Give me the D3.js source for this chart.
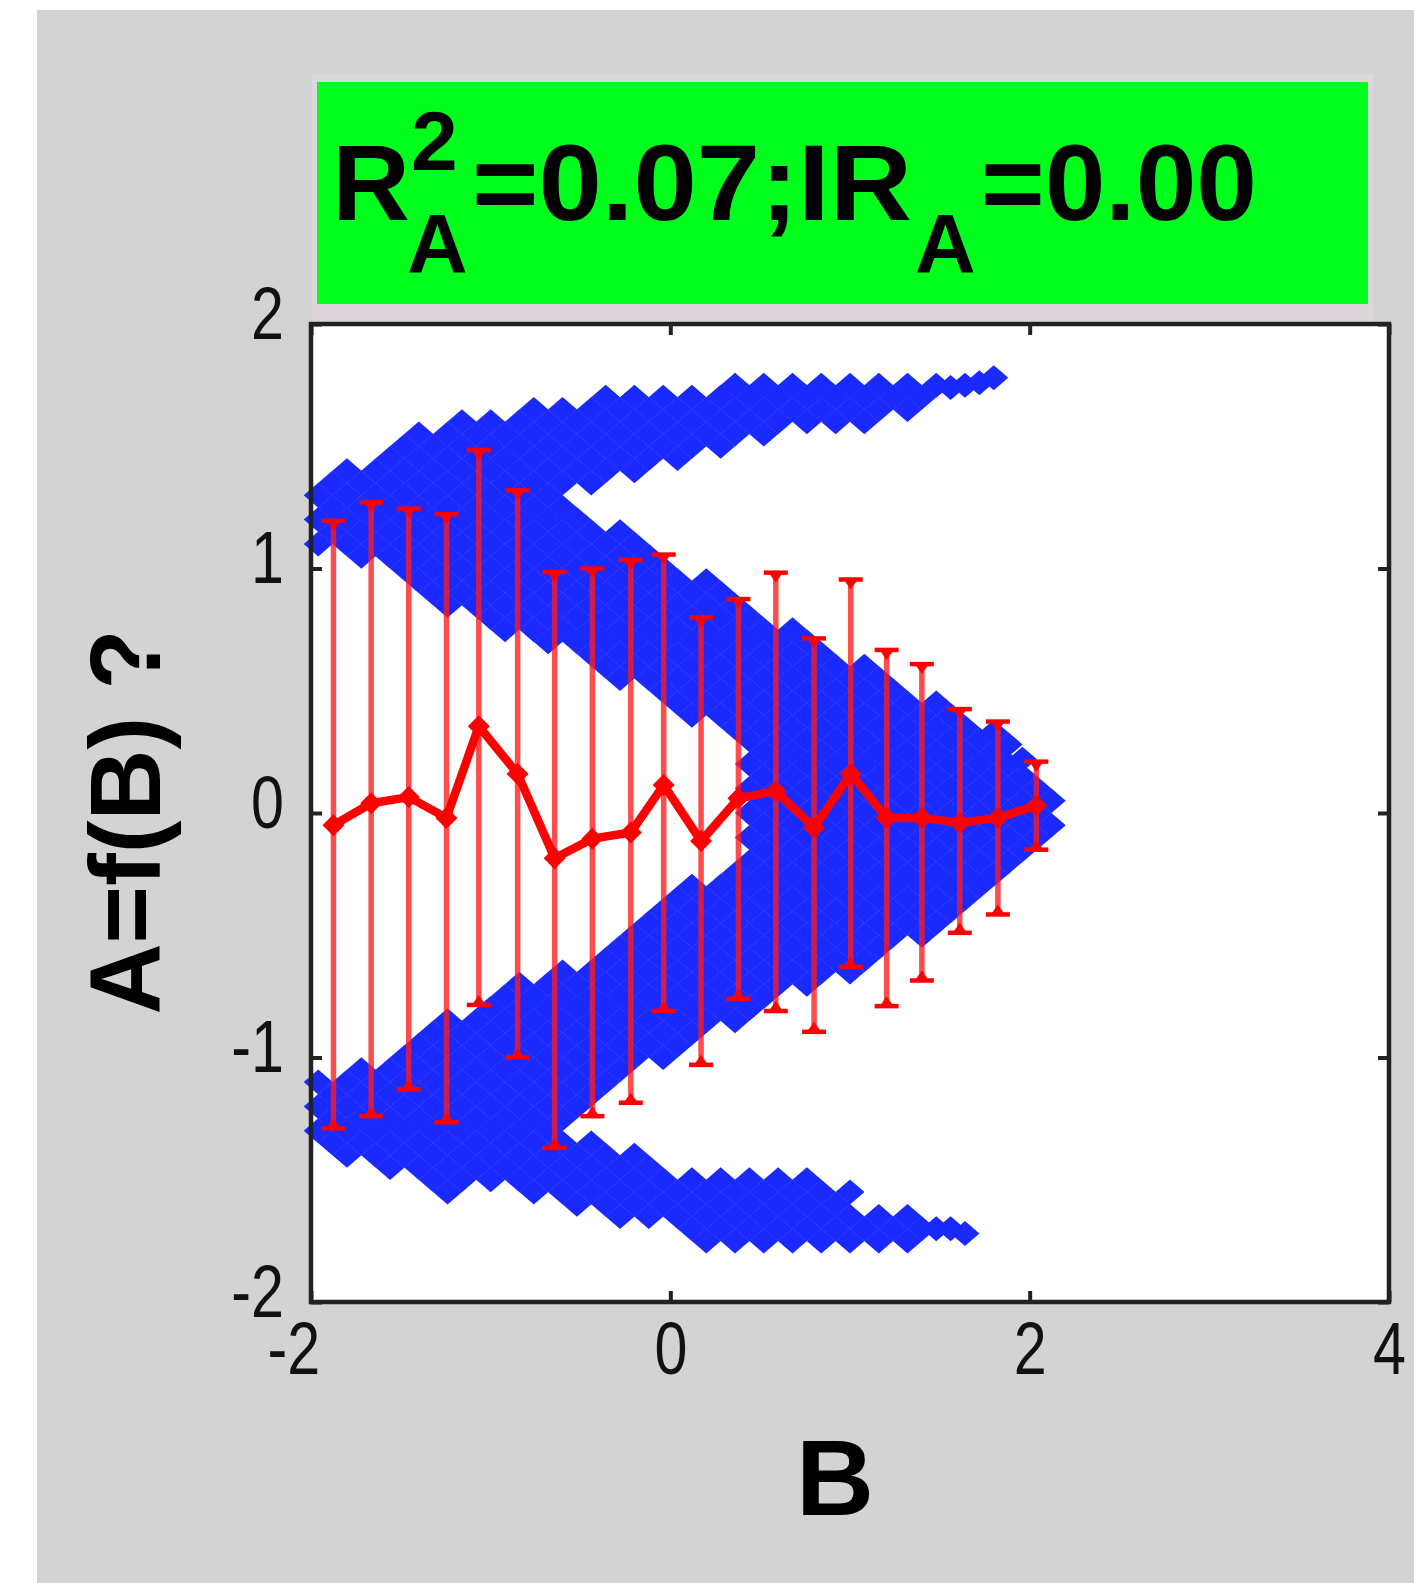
<!DOCTYPE html>
<html>
<head>
<meta charset="utf-8">
<script src="https://cdn.jsdelivr.net/npm/d3@7"></script>
<style>
body { margin: 0; background: #fff; }
svg { display: block; }
text { font-family: "Liberation Sans", Arial, Helvetica, sans-serif; }
</style>
</head>
<body>
<script>
// blue scatter, one entry per B column: [B, [A values of the markers in that column]]
var blueColumns = [
  [-1.96, [1.1, 1.2, 1.3, -1.1, -1.2, -1.3]],
  [-1.88, [1.15, 1.25, 1.35, -1.15, -1.25, -1.35]],
  [-1.80, [1.1, 1.2, 1.3, 1.4, -1.1, -1.2, -1.3, -1.4]],
  [-1.72, [1.05, 1.15, 1.25, 1.35, -1.05, -1.15, -1.25, -1.35]],
  [-1.64, [1.1, 1.2, 1.3, 1.4, -1.1, -1.2, -1.3, -1.4]],
  [-1.56, [1.05, 1.15, 1.25, 1.35, 1.45, -1.05, -1.15, -1.25, -1.35, -1.45]],
  [-1.48, [1.0, 1.1, 1.2, 1.3, 1.4, 1.5, -1.0, -1.1, -1.2, -1.3, -1.4]],
  [-1.40, [0.95, 1.05, 1.15, 1.25, 1.35, 1.45, 1.55, -0.95, -1.05, -1.15, -1.25, -1.35, -1.45]],
  [-1.32, [0.9, 1.0, 1.1, 1.2, 1.3, 1.4, 1.5, -0.9, -1.0, -1.1, -1.2, -1.3, -1.4, -1.5]],
  [-1.24, [0.85, 0.95, 1.05, 1.15, 1.25, 1.35, 1.45, 1.55, -0.85, -0.95, -1.05, -1.15, -1.25, -1.35, -1.45, -1.55]],
  [-1.16, [0.9, 1.0, 1.1, 1.2, 1.3, 1.4, 1.5, 1.6, -0.9, -1.0, -1.1, -1.2, -1.3, -1.4, -1.5]],
  [-1.08, [0.85, 0.95, 1.05, 1.15, 1.25, 1.35, 1.45, 1.55, -0.85, -0.95, -1.05, -1.15, -1.25, -1.35, -1.45]],
  [-1.00, [0.8, 0.9, 1.0, 1.1, 1.2, 1.3, 1.4, 1.5, 1.6, -0.8, -0.9, -1.0, -1.1, -1.2, -1.3, -1.4, -1.5]],
  [-0.92, [0.75, 0.85, 0.95, 1.05, 1.15, 1.25, 1.35, 1.45, 1.55, -0.75, -0.85, -0.95, -1.05, -1.15, -1.25, -1.35, -1.45]],
  [-0.84, [0.8, 0.9, 1.0, 1.1, 1.2, 1.3, 1.4, 1.5, 1.6, -0.7, -0.8, -0.9, -1.0, -1.1, -1.2, -1.3, -1.4, -1.5]],
  [-0.76, [0.75, 0.85, 0.95, 1.05, 1.15, 1.25, 1.35, 1.45, 1.55, 1.65, -0.75, -0.85, -0.95, -1.05, -1.15, -1.25, -1.35, -1.45, -1.55]],
  [-0.68, [0.7, 0.8, 0.9, 1.0, 1.1, 1.2, 1.3, 1.4, 1.5, 1.6, -0.7, -0.8, -0.9, -1.0, -1.1, -1.2, -1.3, -1.4, -1.5]],
  [-0.60, [0.75, 0.85, 0.95, 1.05, 1.15, 1.25, 1.35, 1.45, 1.55, 1.65, -0.65, -0.75, -0.85, -0.95, -1.05, -1.15, -1.25, -1.35, -1.45, -1.55]],
  [-0.52, [0.7, 0.8, 0.9, 1.0, 1.1, 1.2, 1.4, 1.5, 1.6, -0.7, -0.8, -0.9, -1.0, -1.1, -1.2, -1.4, -1.5, -1.6]],
  [-0.44, [0.65, 0.75, 0.85, 0.95, 1.05, 1.15, 1.35, 1.45, 1.55, 1.65, -0.65, -0.75, -0.85, -0.95, -1.05, -1.15, -1.35, -1.45, -1.55]],
  [-0.36, [0.6, 0.7, 0.8, 0.9, 1.0, 1.1, 1.4, 1.5, 1.6, 1.7, -0.6, -0.7, -0.8, -0.9, -1.0, -1.1, -1.4, -1.5, -1.6]],
  [-0.28, [0.55, 0.65, 0.75, 0.85, 0.95, 1.05, 1.15, 1.45, 1.55, 1.65, -0.55, -0.65, -0.75, -0.85, -0.95, -1.05, -1.45, -1.55, -1.65]],
  [-0.20, [0.6, 0.7, 0.8, 0.9, 1.0, 1.1, 1.4, 1.5, 1.6, 1.7, -0.5, -0.6, -0.7, -0.8, -0.9, -1.0, -1.4, -1.5, -1.6]],
  [-0.12, [0.55, 0.65, 0.75, 0.85, 0.95, 1.05, 1.45, 1.55, 1.65, -0.45, -0.55, -0.65, -0.75, -0.85, -0.95, -1.45, -1.55, -1.65]],
  [-0.04, [0.5, 0.6, 0.7, 0.8, 0.9, 1.0, 1.5, 1.6, 1.7, -0.4, -0.5, -0.6, -0.7, -0.8, -0.9, -1.0, -1.5, -1.6]],
  [0.04, [0.45, 0.55, 0.65, 0.75, 0.85, 0.95, 1.45, 1.55, 1.65, -0.35, -0.45, -0.55, -0.65, -0.75, -0.85, -0.95, -1.55, -1.65]],
  [0.12, [0.4, 0.5, 0.6, 0.7, 0.8, 0.9, 1.5, 1.6, 1.7, -0.3, -0.4, -0.5, -0.6, -0.7, -0.8, -0.9, -1.5, -1.6, -1.7]],
  [0.20, [0.45, 0.55, 0.65, 0.75, 0.85, 0.95, 1.55, 1.65, -0.35, -0.45, -0.55, -0.65, -0.75, -0.85, -1.55, -1.65, -1.75]],
  [0.28, [0.4, 0.5, 0.6, 0.7, 0.8, 0.9, 1.5, 1.6, 1.7, -0.3, -0.4, -0.5, -0.6, -0.7, -0.8, -1.5, -1.6, -1.7]],
  [0.36, [0.35, 0.45, 0.55, 0.65, 0.75, 0.85, 1.55, 1.65, 1.75, -0.25, -0.35, -0.45, -0.55, -0.65, -0.75, -0.85, -1.55, -1.65, -1.75]],
  [0.44, [-0.8, -0.7, -0.6, -0.5, -0.4, -0.3, -0.2, -0.1, 0.0, 0.1, 0.2, 0.3, 0.4, 0.5, 0.6, 0.7, 0.8, 1.6, 1.7, -1.5, -1.6, -1.7]],
  [0.52, [-0.75, -0.65, -0.55, -0.45, -0.35, -0.25, -0.15, -0.05, 0.05, 0.15, 0.25, 0.35, 0.45, 0.55, 0.65, 0.75, 1.55, 1.65, 1.75, -1.55, -1.65, -1.75]],
  [0.60, [-0.7, -0.6, -0.5, -0.4, -0.3, -0.2, -0.1, 0.0, 0.1, 0.2, 0.3, 0.4, 0.5, 0.6, 0.7, 1.6, 1.7, -1.5, -1.6, -1.7]],
  [0.68, [-0.65, -0.55, -0.45, -0.35, -0.25, -0.15, -0.05, 0.05, 0.15, 0.25, 0.35, 0.45, 0.55, 0.65, 0.75, 1.65, 1.75, -1.55, -1.65, -1.75]],
  [0.76, [-0.7, -0.6, -0.5, -0.4, -0.3, -0.2, -0.1, 0.0, 0.1, 0.2, 0.3, 0.4, 0.5, 0.6, 0.7, 1.6, 1.7, -1.5, -1.6, -1.7]],
  [0.84, [-0.65, -0.55, -0.45, -0.35, -0.25, -0.15, -0.05, 0.05, 0.15, 0.25, 0.35, 0.45, 0.55, 0.65, 1.65, 1.75, -1.55, -1.65, -1.75]],
  [0.92, [-0.6, -0.5, -0.4, -0.3, -0.2, -0.1, 0.0, 0.1, 0.2, 0.3, 0.4, 0.5, 0.6, 1.6, 1.7, -1.6, -1.7]],
  [1.00, [-0.65, -0.55, -0.45, -0.35, -0.25, -0.15, -0.05, 0.05, 0.15, 0.25, 0.35, 0.45, 0.55, 1.65, 1.75, -1.55, -1.65, -1.75]],
  [1.08, [-0.6, -0.5, -0.4, -0.3, -0.2, -0.1, 0.0, 0.1, 0.2, 0.3, 0.4, 0.5, 0.6, 1.6, 1.7, -1.7]],
  [1.16, [-0.55, -0.45, -0.35, -0.25, -0.15, -0.05, 0.05, 0.15, 0.25, 0.35, 0.45, 0.55, 1.65, 1.75, -1.65, -1.75]],
  [1.24, [-0.5, -0.4, -0.3, -0.2, -0.1, 0.0, 0.1, 0.2, 0.3, 0.4, 0.5, 1.7, -1.7]],
  [1.32, [-0.45, -0.35, -0.25, -0.15, -0.05, 0.05, 0.15, 0.25, 0.35, 0.45, 1.65, 1.75, -1.65, -1.75]],
  [1.40, [-0.5, -0.4, -0.3, -0.2, -0.1, 0.0, 0.1, 0.2, 0.3, 0.4, 1.7, -1.7]],
  [1.48, [-0.45, -0.35, -0.25, -0.15, -0.05, 0.05, 0.15, 0.25, 0.35, 0.45, 1.75, -1.7]],
  [1.56, [-0.4, -0.3, -0.2, -0.1, 0.0, 0.1, 0.2, 0.3, 0.4, 1.74, -1.7]],
  [1.64, [-0.35, -0.25, -0.15, -0.05, 0.05, 0.15, 0.25, 0.35, 1.75, -1.72]],
  [1.72, [-0.3, -0.2, -0.1, 0.0, 0.1, 0.2, 0.3, 1.76]],
  [1.80, [-0.25, -0.15, -0.05, 0.05, 0.15, 0.25, 0.33, 1.78]],
  [1.88, [-0.2, -0.1, 0.0, 0.1, 0.2, 0.28]],
  [1.96, [-0.15, -0.05, 0.05, 0.15, 0.22]],
  [2.04, [-0.1, 0.0, 0.1]],
  [2.12, [-0.05, 0.05]]
];

// red binned mean with error bars
var binB   = [-1.875, -1.665, -1.456, -1.246, -1.066, -0.85, -0.644, -0.434, -0.22, -0.037,
              0.171, 0.379, 0.587, 0.80, 1.004, 1.204, 1.40, 1.611, 1.823, 2.037];
var meanA  = [-0.05, 0.04, 0.065, -0.02, 0.355, 0.16, -0.185, -0.105, -0.08, 0.115,
              -0.115, 0.06, 0.09, -0.06, 0.16, -0.02, -0.02, -0.04, -0.02, 0.03];
var upperA = [1.195, 1.27, 1.245, 1.222, 1.485, 1.32, 0.985, 1.0, 1.035, 1.057,
              0.80, 0.875, 0.983, 0.714, 0.955, 0.667, 0.609, 0.425, 0.374, 0.21];
var lowerA = [-1.29, -1.24, -1.13, -1.265, -0.785, -1.0, -1.37, -1.24, -1.185, -0.81,
              -1.03, -0.76, -0.81, -0.895, -0.63, -0.79, -0.685, -0.49, -0.415, -0.15];

var xTicks = [-2, 0, 2, 4];
var yTicks = [-2, -1, 0, 1, 2];

var W = 1414, H = 1583;
var svg = d3.select("body").append("svg")
    .attr("width", W)
    .attr("height", H);

// figure background
svg.append("rect")
    .attr("x", 37).attr("y", 10)
    .attr("width", W - 37).attr("height", H - 10)
    .attr("fill", "#d3d3d3");

// title box
svg.append("rect")
    .attr("x", 312).attr("y", 74).attr("width", 1061).attr("height", 248)
    .attr("fill", "#ddd7dc");
svg.append("rect")
    .attr("x", 317).attr("y", 82).attr("width", 1051).attr("height", 222)
    .attr("fill", "#00ff1c");

var title = svg.append("g").attr("font-weight", "bold").attr("fill", "#000");
title.append("text").attr("x", 332).attr("y", 220).attr("font-size", 108).text("R");
title.append("text").attr("x", 411).attr("y", 170).attr("font-size", 84).text("2");
title.append("text").attr("x", 407).attr("y", 273).attr("font-size", 84).text("A");
title.append("text").attr("x", 472).attr("y", 220).attr("font-size", 108)
    .attr("textLength", 440).attr("lengthAdjust", "spacingAndGlyphs").text("=0.07;IR");
title.append("text").attr("x", 915).attr("y", 273).attr("font-size", 84).text("A");
title.append("text").attr("x", 981).attr("y", 220).attr("font-size", 108)
    .attr("textLength", 276).attr("lengthAdjust", "spacingAndGlyphs").text("=0.00");

// scales
var x = d3.scaleLinear().domain([-2, 4]).range([311, 1389]);
var y = d3.scaleLinear().domain([-2, 2]).range([1302, 324]);

// plot area
svg.append("rect")
    .attr("x", x(-2)).attr("y", y(2))
    .attr("width", x(4) - x(-2)).attr("height", y(-2) - y(2))
    .attr("fill", "#fff");

// scatter points
var points = [];
blueColumns.forEach(function(c) {
  c[1].forEach(function(a) { points.push({b: c[0], a: a}); });
});

var diamond = function(hx, hy) {
  return "M0," + (-hy) + "L" + hx + ",0L0," + hy + "L" + (-hx) + ",0Z";
};

svg.append("g").selectAll("path")
    .data(points)
  .enter().append("path")
    .attr("d", diamond(14.5, 12.5))
    .attr("transform", function(d) { return "translate(" + x(d.b) + "," + y(d.a) + ")"; })
    .attr("fill", "#1a2aff");

// error bars
var bins = binB.map(function(b, i) {
  return {b: b, m: meanA[i], hi: upperA[i], lo: lowerA[i]};
});

var eb = svg.append("g").selectAll("g")
    .data(bins)
  .enter().append("g");

eb.append("line")
    .attr("x1", function(d) { return x(d.b); })
    .attr("x2", function(d) { return x(d.b); })
    .attr("y1", function(d) { return y(d.hi); })
    .attr("y2", function(d) { return y(d.lo); })
    .attr("stroke", "#ff1a1a")
    .attr("stroke-opacity", 0.78)
    .attr("stroke-width", 5.5);

eb.append("line")
    .attr("x1", function(d) { return x(d.b) - 12; })
    .attr("x2", function(d) { return x(d.b) + 12; })
    .attr("y1", function(d) { return y(d.hi); })
    .attr("y2", function(d) { return y(d.hi); })
    .attr("stroke", "#ff0000").attr("stroke-width", 4.5);
eb.append("line")
    .attr("x1", function(d) { return x(d.b) - 12; })
    .attr("x2", function(d) { return x(d.b) + 12; })
    .attr("y1", function(d) { return y(d.lo); })
    .attr("y2", function(d) { return y(d.lo); })
    .attr("stroke", "#ff0000").attr("stroke-width", 4.5);
eb.append("path")
    .attr("d", function(d) {
      var cx = x(d.b), t = y(d.hi);
      return "M" + (cx - 7) + "," + t + "L" + (cx + 7) + "," + t + "L" + cx + "," + (t + 10) + "Z";
    })
    .attr("fill", "#ff0000");
eb.append("path")
    .attr("d", function(d) {
      var cx = x(d.b), t = y(d.lo);
      return "M" + (cx - 7) + "," + t + "L" + (cx + 7) + "," + t + "L" + cx + "," + (t - 10) + "Z";
    })
    .attr("fill", "#ff0000");

// mean line
var line = d3.line()
    .x(function(d) { return x(d.b); })
    .y(function(d) { return y(d.m); });

svg.append("path")
    .datum(bins)
    .attr("d", line)
    .attr("fill", "none")
    .attr("stroke", "#ff0000")
    .attr("stroke-width", 8.5)
    .attr("stroke-linejoin", "round");

svg.append("g").selectAll("path")
    .data(bins)
  .enter().append("path")
    .attr("d", diamond(11, 11))
    .attr("transform", function(d) { return "translate(" + x(d.b) + "," + y(d.m) + ")"; })
    .attr("fill", "#ff0000");

// axes
var fmt = function(d) { return String(d); };
var styleAxis = function(g) {
  g.select(".domain").remove();
  g.selectAll(".tick line").attr("stroke", "#222").attr("stroke-width", 4);
  g.selectAll(".tick text")
      .attr("fill", "#111")
      .attr("transform", "scale(0.8,1)")
      .style("font-size", "74px")
      .style("font-family", "'Liberation Sans', Arial, sans-serif");
};

var xAxis = svg.append("g")
    .attr("transform", "translate(0," + y(-2) + ")")
    .call(d3.axisBottom(x).tickValues(xTicks).tickSize(-11).tickPadding(19).tickFormat(fmt))
    .call(styleAxis);
xAxis.selectAll(".tick text").filter(function(d) { return d === -2; }).attr("dx", -22);

svg.append("g")
    .attr("transform", "translate(0," + y(2) + ")")
    .call(d3.axisTop(x).tickValues(xTicks).tickSize(-11).tickFormat(""))
    .call(styleAxis);

var yAxis = svg.append("g")
    .attr("transform", "translate(" + x(-2) + ",0)")
    .call(d3.axisLeft(y).tickValues(yTicks).tickSize(-11).tickPadding(34).tickFormat(fmt))
    .call(styleAxis);
yAxis.selectAll(".tick text").attr("dy", "0.19em");

svg.append("g")
    .attr("transform", "translate(" + x(4) + ",0)")
    .call(d3.axisRight(y).tickValues(yTicks).tickSize(-11).tickFormat(""))
    .call(styleAxis);

// frame
svg.append("rect")
    .attr("x", x(-2)).attr("y", y(2))
    .attr("width", x(4) - x(-2)).attr("height", y(-2) - y(2))
    .attr("fill", "none")
    .attr("stroke", "#222")
    .attr("stroke-width", 4.5);

// axis labels
svg.append("text")
    .attr("x", (x(-2) + x(4)) / 2 - 15)
    .attr("y", 1515)
    .attr("text-anchor", "middle")
    .attr("font-weight", "bold")
    .attr("font-size", 108)
    .text("B");

svg.append("text")
    .attr("transform", "translate(160,822) rotate(-90)")
    .attr("text-anchor", "middle")
    .attr("font-weight", "bold")
    .attr("font-size", 100)
    .attr("textLength", 385)
    .attr("lengthAdjust", "spacingAndGlyphs")
    .text("A=f(B) ?");
</script>
</body>
</html>
